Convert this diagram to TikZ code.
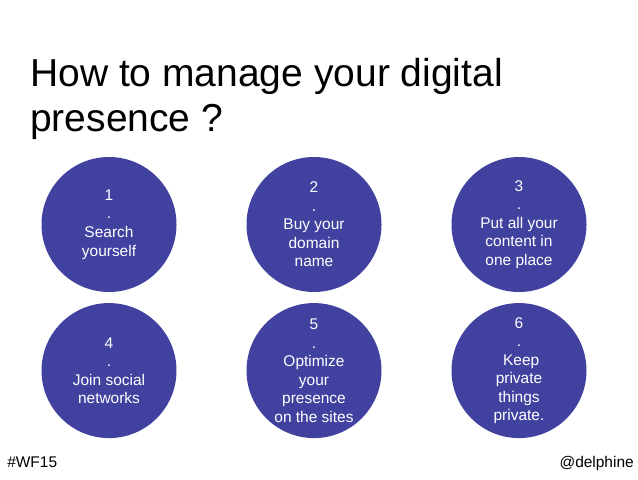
\documentclass[tikz,border=0pt]{standalone}
\usepackage{fontspec}
\setmainfont{Liberation Sans}
\usetikzlibrary{positioning}

\definecolor{bubbleblue}{RGB}{65,65,160}

\begin{document}
\begin{tikzpicture}[x=0.75pt, y=-0.75pt, node distance=7.9pt and 52.1pt,
  bubble/.style={circle, fill=bubbleblue, inner sep=0pt, minimum size=101.25pt},
  bubbletext/.style={text=white, align=center, inner sep=0pt, font=\fontsize{11.6}{13.9}\selectfont},
  foot/.style={inner sep=0pt, font=\fontsize{11.6}{13.9}\selectfont}]

\useasboundingbox[fill=white] (0,0) rectangle (638,479);

% Title
\node (title) [anchor=north west, align=left, inner sep=0pt, font=\fontsize{29.25}{33.75}\selectfont] at (30,57.5) {How to manage your digital\\presence ?};

% Circles
\node (c1) [bubble] at (109,224.5) {};
\node (c2) [bubble, right=of c1] {};
\node (c3) [bubble, right=of c2] {};
\node (c4) [bubble, below=of c1] {};
\node (c5) [bubble, right=of c4] {};
\node (c6) [bubble, right=of c5] {};

% Texts
\node (t1) [bubbletext] at (c1) {1\\.\\Search\\yourself};
\node (t2) [bubbletext] at (c2) {2\\.\\Buy your\\domain\\name};
\node (t3) [bubbletext] at (c3) {3\\.\\Put all your\\content in\\one place};
\node (t4) [bubbletext] at (c4) {4\\.\\Join social\\networks};
\node (t5) [bubbletext] at (c5) {5\\.\\Optimize\\your\\presence\\on the sites};
\node (t6) [bubbletext] at (c6) {6\\.\\\ Keep\\private\\things\\private.};

% Footer
\node (tag) [foot, anchor=base west] at (7,467) {\#WF15};
\node (handle) [foot, anchor=base east] at (634,467) {@delphine};

\end{tikzpicture}
\end{document}
